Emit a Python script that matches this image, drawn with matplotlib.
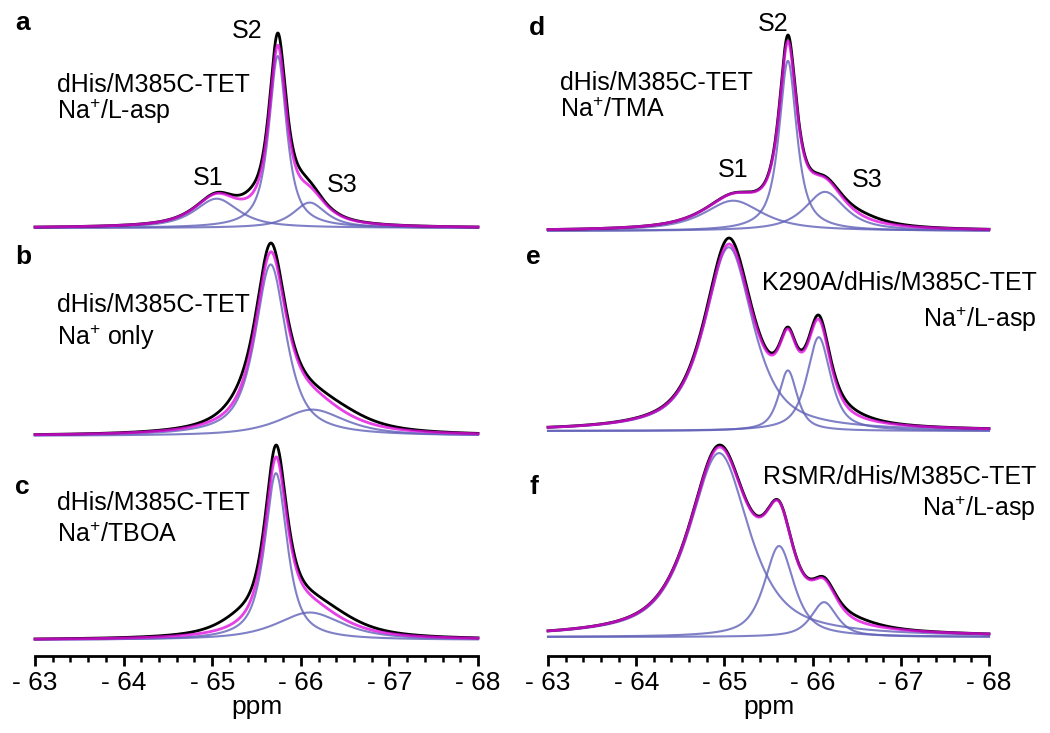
import numpy as np
import matplotlib
matplotlib.use("Agg")
import matplotlib.pyplot as plt
from matplotlib.ticker import MultipleLocator, FixedLocator, FuncFormatter

plt.rcParams['font.family'] = ['Liberation Sans', 'DejaVu Sans']
plt.rcParams['mathtext.fontset'] = 'custom'
plt.rcParams['mathtext.rm'] = 'Liberation Sans'
plt.rcParams['mathtext.it'] = 'Liberation Sans:italic'
plt.rcParams['mathtext.bf'] = 'Liberation Sans:bold'

# ---------------- data (ppm, relative height, FWHM in ppm) ----------------
panel_ids = ['a', 'b', 'c', 'd', 'e', 'f']

# fitted line components (blue), their sum = fit (magenta)
fit_centers = {
    'a': [-65.05, -65.74, -66.10],
    'b': [-65.66, -66.13],
    'c': [-65.72, -66.10],
    'd': [-65.10, -65.72, -66.14],
    'e': [-65.05, -65.72, -66.07],
    'f': [-64.94, -65.62, -66.13],
}
fit_heights = {
    'a': [0.15, 0.88, 0.13],
    'b': [0.91, 0.14],
    'c': [0.88, 0.145],
    'd': [0.155, 0.87, 0.20],
    'e': [0.94, 0.31, 0.48],
    'f': [0.95, 0.47, 0.18],
}
fit_fwhm = {
    'a': [0.60, 0.24, 0.45],
    'b': [0.42, 0.90],
    'c': [0.30, 0.90],
    'd': [0.80, 0.24, 0.55],
    'e': [0.65, 0.25, 0.32],
    'f': [0.80, 0.40, 0.35],
}
# Lorentzian fraction of the line shape in each panel
lorentz_fraction = {'a': 0.85, 'b': 0.8, 'c': 0.8, 'd': 0.85, 'e': 0.75, 'f': 0.75}

# experimental spectrum (black), described by its own line components
exp_centers = {
    'a': [-65.05, -65.74, -66.10, -65.45, -66.00],
    'b': [-65.66, -66.13, -65.30, -66.50],
    'c': [-65.72, -66.10, -65.30, -66.40],
    'd': [-65.10, -65.72, -66.14, -66.60],
    'e': [-65.05, -65.72, -66.07, -66.40],
    'f': [-64.94, -65.62, -66.13, -66.50],
}
exp_heights = {
    'a': [0.15, 0.93, 0.13, 0.03, 0.03],
    'b': [0.94, 0.14, 0.04, 0.03],
    'c': [0.92, 0.145, 0.05, 0.03],
    'd': [0.155, 0.90, 0.20, 0.02],
    'e': [0.97, 0.31, 0.49, 0.02],
    'f': [0.96, 0.47, 0.18, 0.02],
}
exp_fwhm = {
    'a': [0.60, 0.24, 0.45, 0.30, 0.30],
    'b': [0.42, 0.90, 0.50, 0.80],
    'c': [0.30, 0.90, 0.60, 0.80],
    'd': [0.80, 0.24, 0.55, 0.60],
    'e': [0.65, 0.25, 0.32, 0.60],
    'f': [0.80, 0.40, 0.35, 0.60],
}

sample_line1 = {
    'a': 'dHis/M385C-TET', 'b': 'dHis/M385C-TET', 'c': 'dHis/M385C-TET',
    'd': 'dHis/M385C-TET', 'e': 'K290A/dHis/M385C-TET', 'f': 'RSMR/dHis/M385C-TET',
}
sample_line2 = {
    'a': 'Na$^{+}$/L-asp', 'b': 'Na$^{+}$ only', 'c': 'Na$^{+}$/TBOA',
    'd': 'Na$^{+}$/TMA', 'e': 'Na$^{+}$/L-asp', 'f': 'Na$^{+}$/L-asp',
}
site_labels = ['S1', 'S2', 'S3']
xticks_ppm = [-63, -64, -65, -66, -67, -68]
ppm_min, ppm_max = -63, -68

# ---------------- layout (pixels) ----------------
W, H = 1050, 733
col_x = {'L': (35, 478), 'R': (548, 989)}
layout = {  # column, baseline y, peak-top y, axes bottom y
    'a': ('L', 228, 33, 236),
    'b': ('L', 436, 243, 444),
    'c': ('L', 640, 445, 656),
    'd': ('R', 231, 35, 239),
    'e': ('R', 431, 238, 439),
    'f': ('R', 637, 445, 656),
}

BLACK = '#000000'
MAGENTA = '#e010e0'
BLUE = '#6060b8'


def line_shape(x, c, h, w, eta):
    hw = w / 2.0
    lor = 1.0 / (1.0 + ((x - c) / hw) ** 2)
    gau = np.exp(-np.log(2.0) * ((x - c) / hw) ** 2)
    return h * (eta * lor + (1 - eta) * gau)


fig = plt.figure(figsize=(W / 100, H / 100), dpi=100)
x = np.linspace(ppm_min, ppm_max, 2000)

for pid in panel_ids:
    col, yb, yt, ybot = layout[pid]
    x0, x1 = col_x[col]
    eta = lorentz_fraction[pid]
    ax = fig.add_axes([x0 / W, 1 - ybot / H, (x1 - x0) / W, (ybot - yt) / H])
    comps = [line_shape(x, c, h, w, eta) for c, h, w in
             zip(fit_centers[pid], fit_heights[pid], fit_fwhm[pid])]
    fit = np.sum(comps, axis=0)
    expt = np.sum([line_shape(x, c, h, w, eta) for c, h, w in
                   zip(exp_centers[pid], exp_heights[pid], exp_fwhm[pid])], axis=0)
    tmax = expt.max()
    s = (yb - yt) / tmax
    ax.set_ylim(-(ybot - yb) / s, tmax)
    ax.set_xlim(ppm_min, ppm_max)

    for comp in comps:
        ax.plot(x, comp, color=BLUE, lw=1.5, alpha=0.8, clip_on=False, zorder=2)
    ax.plot(x, expt, color=BLACK, lw=2.0, clip_on=False, zorder=3)
    ax.plot(x, fit, color=MAGENTA, lw=2.0, alpha=0.8, clip_on=False, zorder=4)

    for sp in ['left', 'right', 'top']:
        ax.spines[sp].set_visible(False)
    ax.set_yticks([])
    ax.patch.set_alpha(0)
    if pid in ('c', 'f'):
        ax.spines['bottom'].set_linewidth(2.0)
        ax.xaxis.set_major_locator(FixedLocator(xticks_ppm))
        ax.xaxis.set_minor_locator(MultipleLocator(0.2))
        ax.xaxis.set_major_formatter(FuncFormatter(lambda v, p: f"- {abs(v):.0f}"))
        ax.tick_params(axis='x', which='major', direction='out', length=7, width=2,
                       labelsize=19, pad=4)
        ax.tick_params(axis='x', which='minor', direction='out', length=4, width=1.8)
        ax.set_xlabel('ppm', fontsize=19, labelpad=0)
    else:
        ax.spines['bottom'].set_visible(False)
        ax.set_xticks([])


def ftext(px, py, s, **kw):
    fig.text(px / W, 1 - py / H, s, **kw)


# panel letters
letter_pos = {'a': (15, 23), 'b': (15, 257), 'c': (15, 487),
              'd': (529, 28), 'e': (526, 257), 'f': (530, 487)}
for pid, (px, py) in letter_pos.items():
    ftext(px, py, pid, fontsize=19, fontweight='bold', va='center', ha='left')

# sample descriptions
left_text = {'a': (57, 85, 111), 'b': (57, 305, 337), 'c': (57, 503, 535),
             'd': (560, 83, 110)}
for pid, (px, py1, py2) in left_text.items():
    ftext(px, py1, sample_line1[pid], fontsize=18, va='center', ha='left')
    ftext(px, py2, sample_line2[pid], fontsize=18, va='center', ha='left')
right_text = {'e': (1037, 283, 319), 'f': (1036, 477, 508)}
for pid, (px, py1, py2) in right_text.items():
    ftext(px, py1, sample_line1[pid], fontsize=18, va='center', ha='right')
    ftext(px, py2, sample_line2[pid], fontsize=18, va='center', ha='right')

# site labels
site_pos = {'a': [(208, 178), (247, 31), (342, 185)],
            'd': [(733, 170), (773, 24), (867, 180)]}
for pid, plist in site_pos.items():
    for lab, (px, py) in zip(site_labels, plist):
        ftext(px, py, lab, fontsize=18, va='center', ha='center')

fig.savefig('out.png', dpi=100)
